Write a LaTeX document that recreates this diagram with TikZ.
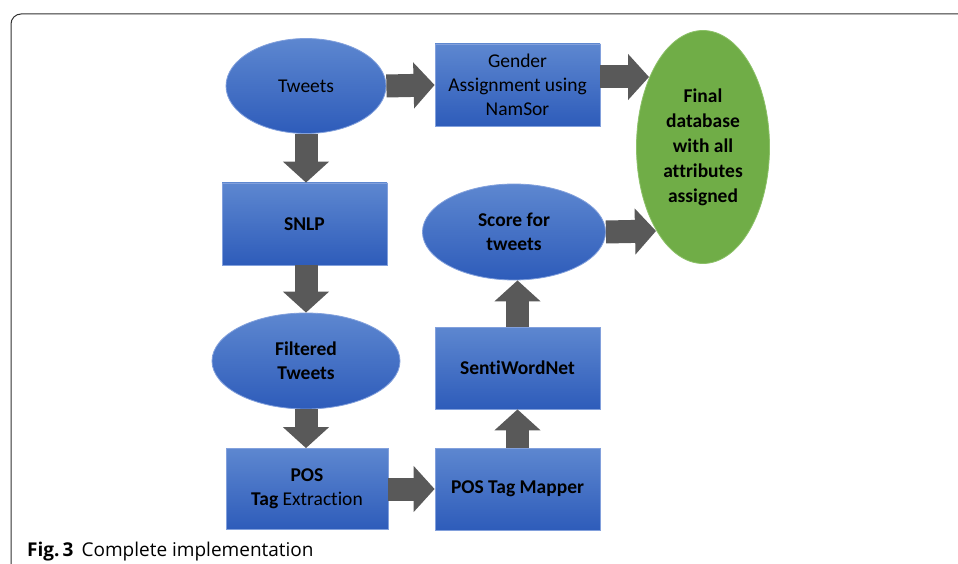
\documentclass[tikz,border=0pt]{standalone}
\usepackage{fontspec}
\setmainfont{Carlito}[Ligatures={NoCommon}]
\newfontfamily\capfont{Open Sans}
\usetikzlibrary{shapes.geometric,arrows.meta}
\definecolor{blueTop}{RGB}{93,135,208}
\definecolor{blueBot}{RGB}{46,92,186}
\definecolor{blueEdge}{RGB}{130,160,220}
\definecolor{greenFill}{RGB}{112,173,71}
\definecolor{greenEdge}{RGB}{140,193,104}
\definecolor{arrowGray}{RGB}{89,89,89}
\definecolor{frameGray}{RGB}{50,50,50}
\tikzset{
  x=1pt, y=-1pt,
  txt/.style={font=\fontsize{19.5}{24}\selectfont, align=center, text=black},
  bluebox/.style={txt, rectangle, top color=blueTop, bottom color=blueBot, draw=blueEdge, line width=0.8pt, minimum width=165pt, minimum height=82pt, inner sep=0pt},
  blueell/.style={txt, ellipse, top color=blueTop, bottom color=blueBot, draw=blueEdge, line width=0.8pt, inner sep=0pt},
  greenell/.style={txt, font=\fontsize{19.5}{25}\selectfont\bfseries, ellipse, fill=greenFill, draw=greenEdge, line width=0.8pt, inner sep=0pt},
  blockarrow/.style={draw=arrowGray, line width=23pt, -{Triangle[width=45pt,length=21pt]}},
}
\begin{document}
\begin{tikzpicture}
\useasboundingbox (0,0) rectangle (958,564);
\fill[white] (0,0) rectangle (958,564);
% frame
\draw[frameGray, line width=1pt, rounded corners=10pt] (958,14) -- (11,14) -- (11,564);

% nodes
\node[blueell, minimum width=160pt, minimum height=95pt] (tweets) at (306,86) {Tweets};
\node[bluebox] (gender) at (517.5,85) {Gender\\Assignment using\\NamSor};
\node[greenell, minimum width=133pt, minimum height=233pt] (final) at (703,147) {Final\\database\\with all\\attributes\\assigned};
\node[bluebox] (snlp) at (304.5,224) {\bfseries SNLP};
\node[blueell, minimum width=188pt, minimum height=96pt] (filtered) at (306,361) {\bfseries Filtered\\\bfseries Tweets};
\node[bluebox, minimum width=162pt, minimum height=81pt] (pos) at (307,489) {\bfseries POS\\\textbf{Tag} Extraction};
\node[bluebox] (mapper) at (517.5,489) {\bfseries POS Tag Mapper};
\node[bluebox] (senti) at (517.5,368) {\bfseries SentiWordNet};
\node[blueell, minimum width=183pt, minimum height=96pt] (score) at (514,232) {\bfseries Score for\\\bfseries tweets};

% free ends on the final ellipse
\coordinate (fin1) at (649,77);
\coordinate (fin2) at (656,231);

% connectors
\draw[blockarrow] (tweets.east) -- (gender.west);
\draw[blockarrow] ([yshift=8pt]gender.east) -- (fin1);
\draw[blockarrow] (score.east) -- (fin2);
\draw[blockarrow] (tweets.south) -- (tweets.south |- snlp.north);
\draw[blockarrow] (snlp.south -| tweets.south) -- (filtered.north);
\draw[blockarrow] (filtered.south) -- (filtered.south |- pos.north);
\draw[blockarrow] (pos.east) -- (mapper.west);
\draw[blockarrow] (mapper.north) -- (senti.south);
\draw[blockarrow] (senti.north) -- (senti.north |- score.south);

% caption
\node[anchor=base west, inner sep=0pt, font=\capfont\fontsize{19}{22}\selectfont] (cap) at (27,556) {\textbf{Fig.\,3}\hspace{8pt}Complete implementation};
\end{tikzpicture}
\end{document}
